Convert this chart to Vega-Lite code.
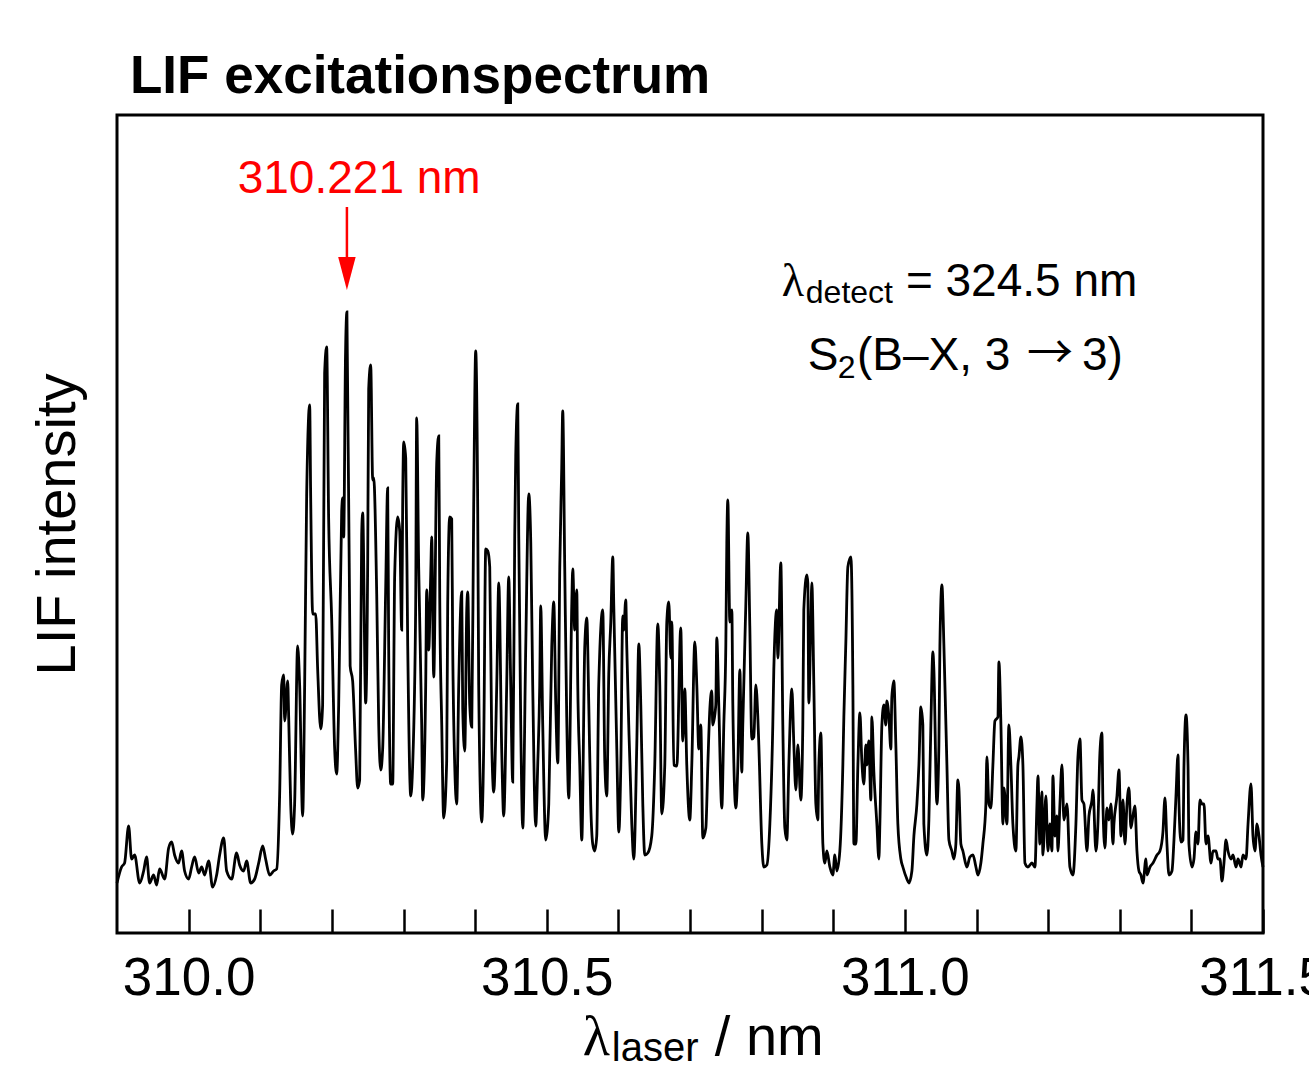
{
"$schema": "https://vega.github.io/schema/vega-lite/v6.json",
"width": 1146, "height": 818,
"autosize": {"type": "none"},
"padding": {"left": 117, "top": 115, "right": 46, "bottom": 134},
"background": "white",
"title": {"text": "LIF excitationspectrum", "anchor": "start", "frame": "group", "dx": 13, "dy": 50, "offset": 19, "baseline": "alphabetic", "font": "Liberation Sans", "fontSize": 53, "fontWeight": "bold", "color": "black"},
"config": {"view": {"stroke": "black", "strokeWidth": 3}, "font": "Liberation Sans"},
"datasets": {"spectrum": [
{"nm":309.9000,"lif":50},{"nm":309.9064,"lif":66},{"nm":309.9106,"lif":70},{"nm":309.9162,"lif":107},{"nm":309.9204,"lif":74},{"nm":309.9246,"lif":78},{"nm":309.9316,"lif":50},{"nm":309.9372,"lif":62},{"nm":309.9413,"lif":76},{"nm":309.9455,"lif":50},{"nm":309.9511,"lif":58},{"nm":309.9553,"lif":48},{"nm":309.9595,"lif":64},{"nm":309.9665,"lif":54},{"nm":309.9721,"lif":85},{"nm":309.9763,"lif":91},{"nm":309.9804,"lif":78},{"nm":309.9860,"lif":70},{"nm":309.9902,"lif":82},{"nm":309.9944,"lif":62},
{"nm":310.0000,"lif":54},{"nm":310.0042,"lif":66},{"nm":310.0084,"lif":76},{"nm":310.0140,"lif":60},{"nm":310.0182,"lif":66},{"nm":310.0223,"lif":58},{"nm":310.0279,"lif":72},{"nm":310.0335,"lif":46},{"nm":310.0391,"lif":58},{"nm":310.0433,"lif":78},{"nm":310.0489,"lif":95},{"nm":310.0531,"lif":62},{"nm":310.0601,"lif":54},{"nm":310.0670,"lif":80},{"nm":310.0712,"lif":68},{"nm":310.0768,"lif":62},{"nm":310.0810,"lif":72},{"nm":310.0866,"lif":50},{"nm":310.0922,"lif":54},{"nm":310.0978,"lif":70},
{"nm":310.1034,"lif":87},{"nm":310.1075,"lif":74},{"nm":310.1131,"lif":58},{"nm":310.1187,"lif":62},{"nm":310.1229,"lif":64},{"nm":310.1271,"lif":139},{"nm":310.1299,"lif":248},{"nm":310.1327,"lif":258},{"nm":310.1341,"lif":212},{"nm":310.1383,"lif":252},{"nm":310.1397,"lif":216},{"nm":310.1425,"lif":129},{"nm":310.1452,"lif":99},{"nm":310.1480,"lif":129},{"nm":310.1522,"lif":287},{"nm":310.1550,"lif":248},{"nm":310.1592,"lif":117},{"nm":310.1620,"lif":248},{"nm":310.1648,"lif":437},{"nm":310.1690,"lif":528},{"nm":310.1704,"lif":437},{"nm":310.1732,"lif":319},{"nm":310.1774,"lif":319},{"nm":310.1802,"lif":263},{"nm":310.1844,"lif":204},{"nm":310.1871,"lif":228},{"nm":310.1899,"lif":560},{"nm":310.1927,"lif":586},{"nm":310.1955,"lif":414},{"nm":310.1997,"lif":315},
{"nm":310.2039,"lif":184},{"nm":310.2067,"lif":159},{"nm":310.2095,"lif":228},{"nm":310.2137,"lif":422},{"nm":310.2151,"lif":435},{"nm":310.2165,"lif":396},{"nm":310.2190,"lif":576},{"nm":310.2210,"lif":621},{"nm":310.2255,"lif":267},{"nm":310.2290,"lif":252},{"nm":310.2332,"lif":182},{"nm":310.2360,"lif":145},{"nm":310.2388,"lif":153},{"nm":310.2416,"lif":398},{"nm":310.2430,"lif":420},{"nm":310.2472,"lif":230},{"nm":310.2500,"lif":370},{"nm":310.2514,"lif":544},{"nm":310.2542,"lif":568},{"nm":310.2570,"lif":453},{"nm":310.2584,"lif":455},{"nm":310.2626,"lif":339},{"nm":310.2654,"lif":208},{"nm":310.2682,"lif":163},{"nm":310.2709,"lif":184},{"nm":310.2751,"lif":343},{"nm":310.2779,"lif":445},{"nm":310.2793,"lif":287},{"nm":310.2821,"lif":149},{"nm":310.2849,"lif":149},{"nm":310.2877,"lif":358},{"nm":310.2919,"lif":416},{"nm":310.2947,"lif":402},{"nm":310.2975,"lif":303},{"nm":310.2989,"lif":433},
{"nm":310.3003,"lif":491},{"nm":310.3031,"lif":475},{"nm":310.3059,"lif":287},{"nm":310.3101,"lif":137},{"nm":310.3128,"lif":168},{"nm":310.3170,"lif":327},{"nm":310.3184,"lif":515},{"nm":310.3212,"lif":366},{"nm":310.3254,"lif":208},{"nm":310.3268,"lif":133},{"nm":310.3310,"lif":248},{"nm":310.3324,"lif":343},{"nm":310.3352,"lif":283},{"nm":310.3380,"lif":358},{"nm":310.3394,"lif":396},{"nm":310.3422,"lif":256},{"nm":310.3464,"lif":471},{"nm":310.3492,"lif":497},{"nm":310.3506,"lif":335},{"nm":310.3534,"lif":208},{"nm":310.3561,"lif":115},{"nm":310.3603,"lif":172},{"nm":310.3617,"lif":327},{"nm":310.3645,"lif":416},{"nm":310.3673,"lif":414},{"nm":310.3687,"lif":287},{"nm":310.3715,"lif":168},{"nm":310.3743,"lif":129},{"nm":310.3771,"lif":248},{"nm":310.3813,"lif":341},{"nm":310.3827,"lif":224},{"nm":310.3855,"lif":182},{"nm":310.3883,"lif":323},{"nm":310.3897,"lif":341},{"nm":310.3925,"lif":228},{"nm":310.3953,"lif":206},{"nm":310.3980,"lif":426},
{"nm":310.4008,"lif":582},{"nm":310.4036,"lif":426},{"nm":310.4050,"lif":248},{"nm":310.4092,"lif":111},{"nm":310.4120,"lif":188},{"nm":310.4148,"lif":384},{"nm":310.4176,"lif":382},{"nm":310.4204,"lif":366},{"nm":310.4232,"lif":192},{"nm":310.4260,"lif":141},{"nm":310.4302,"lif":248},{"nm":310.4330,"lif":350},{"nm":310.4372,"lif":180},{"nm":310.4399,"lif":117},{"nm":310.4441,"lif":248},{"nm":310.4469,"lif":356},{"nm":310.4497,"lif":248},{"nm":310.4525,"lif":151},{"nm":310.4553,"lif":398},{"nm":310.4567,"lif":477},{"nm":310.4595,"lif":529},{"nm":310.4609,"lif":398},{"nm":310.4637,"lif":208},{"nm":310.4665,"lif":105},{"nm":310.4707,"lif":287},{"nm":310.4749,"lif":439},{"nm":310.4777,"lif":390},{"nm":310.4804,"lif":248},{"nm":310.4846,"lif":107},{"nm":310.4874,"lif":168},{"nm":310.4902,"lif":248},{"nm":310.4916,"lif":327},{"nm":310.4944,"lif":208},{"nm":310.4986,"lif":93},
{"nm":310.5014,"lif":109},{"nm":310.5028,"lif":129},{"nm":310.5070,"lif":287},{"nm":310.5098,"lif":331},{"nm":310.5126,"lif":228},{"nm":310.5154,"lif":170},{"nm":310.5182,"lif":366},{"nm":310.5209,"lif":465},{"nm":310.5223,"lif":522},{"nm":310.5251,"lif":366},{"nm":310.5279,"lif":216},{"nm":310.5307,"lif":135},{"nm":310.5349,"lif":327},{"nm":310.5363,"lif":364},{"nm":310.5391,"lif":303},{"nm":310.5419,"lif":343},{"nm":310.5433,"lif":248},{"nm":310.5461,"lif":168},{"nm":310.5489,"lif":93},{"nm":310.5531,"lif":287},{"nm":310.5559,"lif":315},{"nm":310.5587,"lif":228},{"nm":310.5614,"lif":129},{"nm":310.5642,"lif":89},{"nm":310.5670,"lif":82},{"nm":310.5698,"lif":97},{"nm":310.5726,"lif":248},{"nm":310.5782,"lif":323},{"nm":310.5810,"lif":172},{"nm":310.5838,"lif":137},{"nm":310.5866,"lif":259},{"nm":310.5894,"lif":311},{"nm":310.5922,"lif":376},{"nm":310.5936,"lif":327},{"nm":310.5978,"lif":184},
{"nm":310.6006,"lif":101},{"nm":310.6034,"lif":168},{"nm":310.6061,"lif":317},{"nm":310.6075,"lif":303},{"nm":310.6103,"lif":333},{"nm":310.6117,"lif":287},{"nm":310.6145,"lif":208},{"nm":310.6187,"lif":109},{"nm":310.6215,"lif":74},{"nm":310.6257,"lif":188},{"nm":310.6285,"lif":289},{"nm":310.6313,"lif":228},{"nm":310.6341,"lif":129},{"nm":310.6369,"lif":78},{"nm":310.6411,"lif":80},{"nm":310.6466,"lif":97},{"nm":310.6508,"lif":168},{"nm":310.6550,"lif":309},{"nm":310.6578,"lif":248},{"nm":310.6606,"lif":119},{"nm":310.6648,"lif":168},{"nm":310.6676,"lif":311},{"nm":310.6704,"lif":331},{"nm":310.6732,"lif":275},{"nm":310.6746,"lif":311},{"nm":310.6774,"lif":168},{"nm":310.6816,"lif":167},{"nm":310.6871,"lif":305},{"nm":310.6899,"lif":192},{"nm":310.6927,"lif":244},{"nm":310.6955,"lif":168},{"nm":310.6997,"lif":113},
{"nm":310.7025,"lif":168},{"nm":310.7067,"lif":291},{"nm":310.7095,"lif":248},{"nm":310.7123,"lif":184},{"nm":310.7151,"lif":208},{"nm":310.7179,"lif":95},{"nm":310.7221,"lif":105},{"nm":310.7249,"lif":168},{"nm":310.7277,"lif":224},{"nm":310.7304,"lif":242},{"nm":310.7318,"lif":208},{"nm":310.7360,"lif":228},{"nm":310.7374,"lif":295},{"nm":310.7402,"lif":228},{"nm":310.7444,"lif":125},{"nm":310.7472,"lif":208},{"nm":310.7500,"lif":287},{"nm":310.7514,"lif":390},{"nm":310.7528,"lif":433},{"nm":310.7556,"lif":311},{"nm":310.7584,"lif":323},{"nm":310.7598,"lif":228},{"nm":310.7640,"lif":125},{"nm":310.7668,"lif":168},{"nm":310.7696,"lif":263},{"nm":310.7723,"lif":161},{"nm":310.7737,"lif":208},{"nm":310.7779,"lif":327},{"nm":310.7807,"lif":400},{"nm":310.7835,"lif":307},{"nm":310.7863,"lif":194},{"nm":310.7891,"lif":196},{"nm":310.7919,"lif":248},{"nm":310.7947,"lif":216},{"nm":310.7961,"lif":188},
{"nm":310.8003,"lif":89},{"nm":310.8031,"lif":66},{"nm":310.8073,"lif":68},{"nm":310.8115,"lif":109},{"nm":310.8156,"lif":208},{"nm":310.8170,"lif":263},{"nm":310.8212,"lif":323},{"nm":310.8226,"lif":275},{"nm":310.8268,"lif":370},{"nm":310.8296,"lif":208},{"nm":310.8324,"lif":105},{"nm":310.8352,"lif":93},{"nm":310.8380,"lif":168},{"nm":310.8422,"lif":244},{"nm":310.8450,"lif":188},{"nm":310.8478,"lif":143},{"nm":310.8506,"lif":188},{"nm":310.8547,"lif":133},{"nm":310.8575,"lif":208},{"nm":310.8589,"lif":323},{"nm":310.8631,"lif":358},{"nm":310.8645,"lif":350},{"nm":310.8659,"lif":230},{"nm":310.8687,"lif":311},{"nm":310.8701,"lif":350},{"nm":310.8729,"lif":248},{"nm":310.8757,"lif":129},{"nm":310.8785,"lif":113},{"nm":310.8799,"lif":168},{"nm":310.8827,"lif":200},{"nm":310.8855,"lif":89},{"nm":310.8883,"lif":70},{"nm":310.8911,"lif":82},{"nm":310.8953,"lif":66},{"nm":310.8994,"lif":58},
{"nm":310.9022,"lif":78},{"nm":310.9050,"lif":62},{"nm":310.9092,"lif":82},{"nm":310.9134,"lif":168},{"nm":310.9148,"lif":216},{"nm":310.9176,"lif":291},{"nm":310.9204,"lif":366},{"nm":310.9246,"lif":376},{"nm":310.9274,"lif":248},{"nm":310.9288,"lif":89},{"nm":310.9316,"lif":89},{"nm":310.9344,"lif":168},{"nm":310.9372,"lif":220},{"nm":310.9399,"lif":172},{"nm":310.9427,"lif":149},{"nm":310.9455,"lif":188},{"nm":310.9469,"lif":168},{"nm":310.9497,"lif":192},{"nm":310.9525,"lif":133},{"nm":310.9539,"lif":216},{"nm":310.9567,"lif":161},{"nm":310.9609,"lif":109},{"nm":310.9637,"lif":74},{"nm":310.9651,"lif":109},{"nm":310.9679,"lif":208},{"nm":310.9707,"lif":228},{"nm":310.9734,"lif":208},{"nm":310.9748,"lif":232},{"nm":310.9777,"lif":216},{"nm":310.9804,"lif":184},{"nm":310.9818,"lif":236},{"nm":310.9846,"lif":252},{"nm":310.9874,"lif":188},{"nm":310.9902,"lif":109},{"nm":310.9944,"lif":74},{"nm":310.9972,"lif":66},
{"nm":311.0028,"lif":54},{"nm":311.0056,"lif":50},{"nm":311.0098,"lif":62},{"nm":311.0126,"lif":97},{"nm":311.0168,"lif":129},{"nm":311.0196,"lif":168},{"nm":311.0223,"lif":226},{"nm":311.0251,"lif":208},{"nm":311.0265,"lif":109},{"nm":311.0307,"lif":78},{"nm":311.0335,"lif":113},{"nm":311.0363,"lif":208},{"nm":311.0391,"lif":281},{"nm":311.0405,"lif":263},{"nm":311.0447,"lif":129},{"nm":311.0475,"lif":188},{"nm":311.0489,"lif":287},{"nm":311.0517,"lif":348},{"nm":311.0545,"lif":287},{"nm":311.0573,"lif":208},{"nm":311.0587,"lif":168},{"nm":311.0615,"lif":93},{"nm":311.0656,"lif":82},{"nm":311.0684,"lif":74},{"nm":311.0712,"lif":89},{"nm":311.0740,"lif":153},{"nm":311.0754,"lif":145},{"nm":311.0782,"lif":89},{"nm":311.0810,"lif":82},{"nm":311.0866,"lif":66},{"nm":311.0908,"lif":76},{"nm":311.0950,"lif":78},{"nm":311.0992,"lif":66},
{"nm":311.1020,"lif":58},{"nm":311.1061,"lif":70},{"nm":311.1089,"lif":89},{"nm":311.1131,"lif":129},{"nm":311.1145,"lif":176},{"nm":311.1173,"lif":129},{"nm":311.1201,"lif":125},{"nm":311.1229,"lif":168},{"nm":311.1257,"lif":212},{"nm":311.1299,"lif":216},{"nm":311.1313,"lif":271},{"nm":311.1341,"lif":208},{"nm":311.1369,"lif":109},{"nm":311.1383,"lif":145},{"nm":311.1425,"lif":109},{"nm":311.1452,"lif":208},{"nm":311.1480,"lif":168},{"nm":311.1508,"lif":109},{"nm":311.1550,"lif":82},{"nm":311.1578,"lif":168},{"nm":311.1592,"lif":176},{"nm":311.1620,"lif":196},{"nm":311.1648,"lif":168},{"nm":311.1676,"lif":70},{"nm":311.1718,"lif":66},{"nm":311.1774,"lif":70},{"nm":311.1816,"lif":66},{"nm":311.1844,"lif":129},{"nm":311.1858,"lif":157},{"nm":311.1885,"lif":89},{"nm":311.1913,"lif":141},{"nm":311.1927,"lif":78},{"nm":311.1969,"lif":137},{"nm":311.1997,"lif":82},
{"nm":311.2025,"lif":109},{"nm":311.2053,"lif":82},{"nm":311.2067,"lif":157},{"nm":311.2095,"lif":97},{"nm":311.2123,"lif":117},{"nm":311.2137,"lif":82},{"nm":311.2165,"lif":129},{"nm":311.2193,"lif":168},{"nm":311.2221,"lif":113},{"nm":311.2263,"lif":129},{"nm":311.2304,"lif":66},{"nm":311.2346,"lif":58},{"nm":311.2388,"lif":109},{"nm":311.2416,"lif":176},{"nm":311.2444,"lif":194},{"nm":311.2472,"lif":133},{"nm":311.2500,"lif":129},{"nm":311.2542,"lif":82},{"nm":311.2570,"lif":117},{"nm":311.2612,"lif":133},{"nm":311.2626,"lif":143},{"nm":311.2667,"lif":82},{"nm":311.2695,"lif":109},{"nm":311.2723,"lif":180},{"nm":311.2751,"lif":200},{"nm":311.2765,"lif":129},{"nm":311.2793,"lif":85},{"nm":311.2821,"lif":125},{"nm":311.2849,"lif":113},{"nm":311.2877,"lif":129},{"nm":311.2905,"lif":89},{"nm":311.2919,"lif":109},{"nm":311.2961,"lif":137},{"nm":311.2989,"lif":163},
{"nm":311.3017,"lif":97},{"nm":311.3045,"lif":133},{"nm":311.3073,"lif":89},{"nm":311.3101,"lif":129},{"nm":311.3128,"lif":145},{"nm":311.3156,"lif":105},{"nm":311.3184,"lif":117},{"nm":311.3212,"lif":127},{"nm":311.3240,"lif":82},{"nm":311.3268,"lif":62},{"nm":311.3296,"lif":58},{"nm":311.3324,"lif":50},{"nm":311.3366,"lif":74},{"nm":311.3380,"lif":58},{"nm":311.3422,"lif":66},{"nm":311.3464,"lif":70},{"nm":311.3520,"lif":78},{"nm":311.3561,"lif":82},{"nm":311.3603,"lif":101},{"nm":311.3631,"lif":135},{"nm":311.3659,"lif":89},{"nm":311.3687,"lif":58},{"nm":311.3729,"lif":62},{"nm":311.3757,"lif":93},{"nm":311.3785,"lif":137},{"nm":311.3813,"lif":178},{"nm":311.3827,"lif":129},{"nm":311.3855,"lif":91},{"nm":311.3883,"lif":93},{"nm":311.3897,"lif":168},{"nm":311.3925,"lif":218},{"nm":311.3953,"lif":168},{"nm":311.3966,"lif":89},
{"nm":311.4008,"lif":66},{"nm":311.4036,"lif":74},{"nm":311.4064,"lif":101},{"nm":311.4092,"lif":89},{"nm":311.4120,"lif":133},{"nm":311.4148,"lif":129},{"nm":311.4176,"lif":129},{"nm":311.4204,"lif":89},{"nm":311.4232,"lif":97},{"nm":311.4274,"lif":70},{"nm":311.4302,"lif":82},{"nm":311.4343,"lif":82},{"nm":311.4371,"lif":74},{"nm":311.4399,"lif":74},{"nm":311.4427,"lif":52},{"nm":311.4455,"lif":70},{"nm":311.4483,"lif":93},{"nm":311.4511,"lif":82},{"nm":311.4553,"lif":74},{"nm":311.4581,"lif":78},{"nm":311.4623,"lif":66},{"nm":311.4651,"lif":74},{"nm":311.4693,"lif":66},{"nm":311.4721,"lif":78},{"nm":311.4763,"lif":74},{"nm":311.4791,"lif":109},{"nm":311.4832,"lif":149},{"nm":311.4860,"lif":97},{"nm":311.4888,"lif":82},{"nm":311.4916,"lif":109},{"nm":311.4944,"lif":97},{"nm":311.4972,"lif":78},{"nm":311.5000,"lif":66}
]},
"layer": [
{
 "data": {"name": "spectrum"},
 "mark": {"type": "line", "color": "black", "strokeWidth": 2.8, "interpolate": "monotone"},
 "encoding": {
  "x": {"field": "nm", "type": "quantitative",
   "scale": {"domain": [309.9, 311.5], "nice": false, "zero": false},
   "axis": {"values": [310.0, 310.1, 310.2, 310.3, 310.4, 310.5, 310.6, 310.7, 310.8, 310.9, 311.0, 311.1, 311.2, 311.3, 311.4, 311.5],
    "title": null, "grid": false, "domain": false,
    "tickSize": -24, "tickWidth": 2.5, "tickColor": "black",
    "labelExpr": "abs(datum.value*2 - round(datum.value*2)) < 0.001 ? format(datum.value, '.1f') : ''",
    "labelFont": "Liberation Sans", "labelFontSize": 53, "labelColor": "black", "labelPadding": 43,
    "labelFlush": false, "labelOverlap": false, "labelBound": false,
    "encode": {"ticks": {"update": {"y2": {"signal": "abs(datum.value*2 - round(datum.value*2)) < 0.001 ? -24 : -12"}}}}}},
  "y": {"field": "lif", "type": "quantitative",
   "scale": {"domain": [0, 818], "nice": false, "zero": false},
   "axis": {"title": "LIF intensity", "ticks": false, "labels": false, "domain": false, "grid": false,
    "titleFont": "Liberation Sans", "titleFontSize": 56, "titleFontWeight": "normal", "titleColor": "black", "titlePadding": 31}}
 }
},
{
 "data": {"values": [{}]},
 "mark": {"type": "rule", "color": "#ff0000", "strokeWidth": 2.5},
 "encoding": {"x": {"datum": 310.221, "type": "quantitative"}, "y": {"datum": 726, "type": "quantitative"}, "y2": {"datum": 672}}
},
{
 "data": {"values": [{}]},
 "mark": {"type": "point", "filled": true, "color": "#ff0000", "opacity": 1, "size": 1089, "shape": "M-0.53,-1L0.53,-1L0,1Z"},
 "encoding": {"x": {"datum": 310.221, "type": "quantitative"}, "y": {"datum": 659.5, "type": "quantitative"}}
},
{
 "data": {"values": [{}]},
 "mark": {"type": "text", "color": "#ff0000", "font": "Liberation Sans", "fontSize": 46, "align": "center", "baseline": "alphabetic"},
 "encoding": {"x": {"datum": 310.2381, "type": "quantitative"}, "y": {"datum": 740, "type": "quantitative"}, "text": {"value": "310.221 nm"}}
},
{
 "data": {"values": [{}]},
 "mark": {"type": "text", "color": "black", "font": "Liberation Serif", "fontSize": 46, "align": "left", "baseline": "alphabetic"},
 "encoding": {"x": {"datum": 310.8282, "type": "quantitative"}, "y": {"datum": 637, "type": "quantitative"}, "text": {"value": "λ"}}
},
{
 "data": {"values": [{}]},
 "mark": {"type": "text", "color": "black", "font": "Liberation Sans", "fontSize": 32, "align": "left", "baseline": "alphabetic"},
 "encoding": {"x": {"datum": 310.8617, "type": "quantitative"}, "y": {"datum": 630, "type": "quantitative"}, "text": {"value": "detect"}}
},
{
 "data": {"values": [{}]},
 "mark": {"type": "text", "color": "black", "font": "Liberation Sans", "fontSize": 46, "align": "left", "baseline": "alphabetic"},
 "encoding": {"x": {"datum": 311.0014, "type": "quantitative"}, "y": {"datum": 637, "type": "quantitative"}, "text": {"value": "= 324.5 nm"}}
},
{
 "data": {"values": [{}]},
 "mark": {"type": "text", "color": "black", "font": "Liberation Sans", "fontSize": 46, "align": "left", "baseline": "alphabetic"},
 "encoding": {"x": {"datum": 310.8645, "type": "quantitative"}, "y": {"datum": 563, "type": "quantitative"}, "text": {"value": "S"}}
},
{
 "data": {"values": [{}]},
 "mark": {"type": "text", "color": "black", "font": "Liberation Sans", "fontSize": 32, "align": "left", "baseline": "alphabetic"},
 "encoding": {"x": {"datum": 310.9064, "type": "quantitative"}, "y": {"datum": 555, "type": "quantitative"}, "text": {"value": "2"}}
},
{
 "data": {"values": [{}]},
 "mark": {"type": "text", "color": "black", "font": "Liberation Sans", "fontSize": 46, "align": "left", "baseline": "alphabetic"},
 "encoding": {"x": {"datum": 310.9330, "type": "quantitative"}, "y": {"datum": 563, "type": "quantitative"}, "text": {"value": "(B–X, 3"}}
},
{
 "data": {"values": [{}]},
 "mark": {"type": "text", "color": "black", "font": "Noto Sans CJK SC", "fontSize": 46, "fontWeight": "normal", "align": "left", "baseline": "alphabetic"},
 "encoding": {"x": {"datum": 311.1704, "type": "quantitative"}, "y": {"datum": 565, "type": "quantitative"}, "text": {"value": "→"}}
},
{
 "data": {"values": [{}]},
 "mark": {"type": "text", "color": "black", "font": "Liberation Sans", "fontSize": 46, "align": "left", "baseline": "alphabetic"},
 "encoding": {"x": {"datum": 311.2472, "type": "quantitative"}, "y": {"datum": 563, "type": "quantitative"}, "text": {"value": "3)"}}
},
{
 "data": {"values": [{}]},
 "mark": {"type": "text", "color": "black", "font": "Liberation Serif", "fontSize": 56, "align": "left", "baseline": "alphabetic"},
 "encoding": {"x": {"datum": 310.5503, "type": "quantitative"}, "y": {"datum": -122, "type": "quantitative"}, "text": {"value": "λ"}}
},
{
 "data": {"values": [{}]},
 "mark": {"type": "text", "color": "black", "font": "Liberation Sans", "fontSize": 40, "align": "left", "baseline": "alphabetic"},
 "encoding": {"x": {"datum": 310.5908, "type": "quantitative"}, "y": {"datum": -128, "type": "quantitative"}, "text": {"value": "laser"}}
},
{
 "data": {"values": [{}]},
 "mark": {"type": "text", "color": "black", "font": "Liberation Sans", "fontSize": 56, "align": "left", "baseline": "alphabetic"},
 "encoding": {"x": {"datum": 310.7346, "type": "quantitative"}, "y": {"datum": -122, "type": "quantitative"}, "text": {"value": "/ nm"}}
}
]
}
